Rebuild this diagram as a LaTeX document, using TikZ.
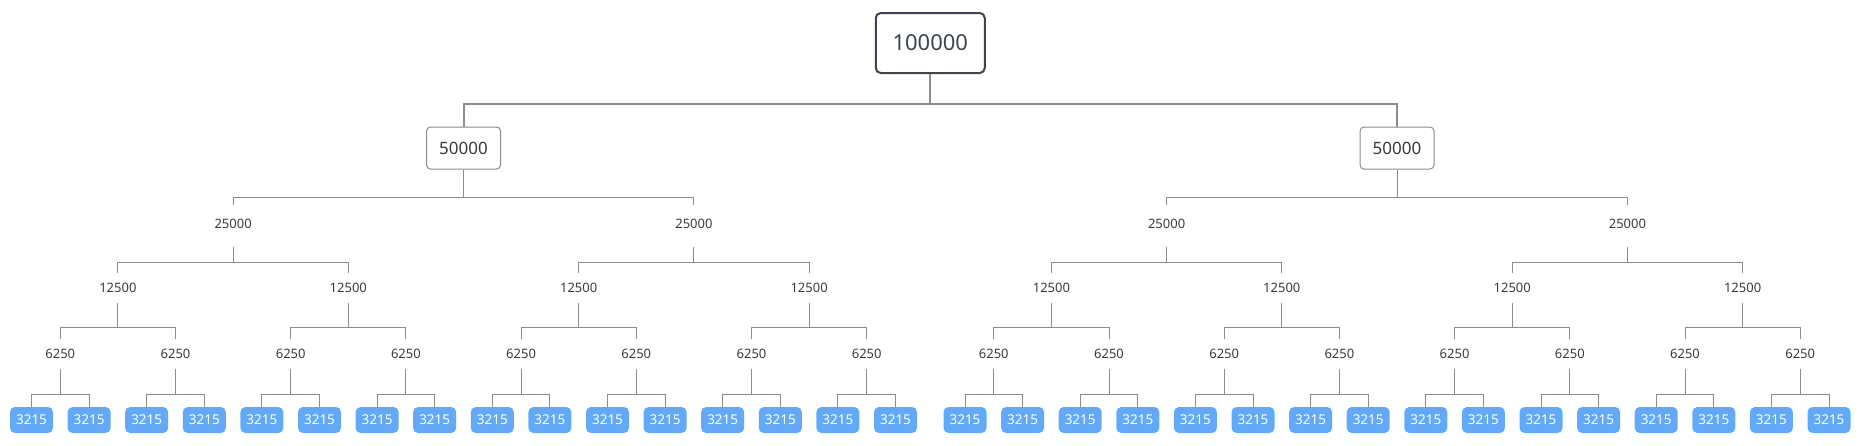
\documentclass[tikz,border=0pt]{standalone}
\usepackage{fontspec}
\setmainfont{Noto Sans}
\usetikzlibrary{calc}
\definecolor{rootline}{HTML}{3D4550}
\definecolor{wiregray}{HTML}{8C8C8C}
\definecolor{leafblue}{HTML}{62AAF7}
\definecolor{numtext}{HTML}{3A3A3A}
\tikzset{
	rootbox/.style={shape=rectangle, draw=rootline, line width=2pt, rounded corners=5pt, minimum width=109pt, minimum height=60pt, text=rootline, font=\fontsize{22}{26}\selectfont},
	halfbox/.style={shape=rectangle, draw=wiregray, line width=1pt, rounded corners=4pt, minimum width=74pt, minimum height=42pt, text=numtext, font=\fontsize{17}{20}\selectfont},
	plainnum/.style={shape=rectangle, inner sep=0pt, minimum width=40pt, minimum height=30pt, text=numtext, font=\fontsize{13}{15}\selectfont},
	leafbox/.style={shape=rectangle, fill=leafblue, rounded corners=5pt, minimum width=43pt, minimum height=26pt, inner sep=0pt, text=white, font=\fontsize{13.5}{16}\selectfont},
	wire/.style={draw=wiregray, line width=1pt},
	thickwire/.style={draw=wiregray, line width=2pt},
}
\begin{document}
\begin{tikzpicture}[x=1pt, y=-1pt]
	\useasboundingbox (0,0) rectangle (1860,445);
	% Bars between levels:
	\coordinate (bar0) at (0,104);
	\coordinate (bar1) at (0,197);
	\coordinate (bar2) at (0,262);
	\coordinate (bar3) at (0,327);
	\coordinate (bar4) at (0,394);
	% Leaves:
	\foreach \i in {1,...,32}{
		\pgfmathsetmacro{\lx}{\i<=16 ? 31.5+57.6*(\i-1) : 965+57.6*(\i-17)}
		\node[leafbox] (l\i) at (\lx, 420){3215};
	}
	% 6250 level:
	\foreach \j in {1,...,16}{
		\pgfmathtruncatemacro{\a}{2*\j-1}
		\pgfmathtruncatemacro{\b}{2*\j}
		\node[plainnum] (s\j) at ($(l\a)!0.5!(l\b)+(0,-66)$){6250};
		\draw[wire] (s\j.south) -- (s\j.south |- bar4) -| (l\a.north) (s\j.south |- bar4) -| (l\b.north);
	}
	% 12500 level:
	\foreach \j in {1,...,8}{
		\pgfmathtruncatemacro{\a}{2*\j-1}
		\pgfmathtruncatemacro{\b}{2*\j}
		\node[plainnum] (e\j) at ($(s\a)!0.5!(s\b)+(0,-66)$){12500};
		\draw[wire] (e\j.south) -- (e\j.south |- bar3) -| (s\a.north) (e\j.south |- bar3) -| (s\b.north);
	}
	% 25000 level:
	\foreach \j in {1,...,4}{
		\pgfmathtruncatemacro{\a}{2*\j-1}
		\pgfmathtruncatemacro{\b}{2*\j}
		\node[plainnum, minimum height=41pt, text depth=4pt] (q\j) at ($(e\a)!0.5!(e\b)+(0,-62)$){25000};
		\draw[wire] (q\j.south) -- (q\j.south |- bar2) -| (e\a.north) (q\j.south |- bar2) -| (e\b.north);
	}
	% 50000 level:
	\foreach \j in {1,2}{
		\pgfmathtruncatemacro{\a}{2*\j-1}
		\pgfmathtruncatemacro{\b}{2*\j}
		\node[halfbox] (h\j) at ($(q\a)!0.5!(q\b)+(0,-78)$){50000};
		\draw[wire] (h\j.south) -- (h\j.south |- bar1) -| (q\a.north) (h\j.south |- bar1) -| (q\b.north);
	}
	% Root:
	\node[rootbox] (root) at ($(h1)!0.5!(h2)+(0,-105)$){100000};
	\draw[thickwire] (root.south) -- (root.south |- bar0) -| (h1.north) (root.south |- bar0) -| (h2.north);
\end{tikzpicture}
\end{document}
